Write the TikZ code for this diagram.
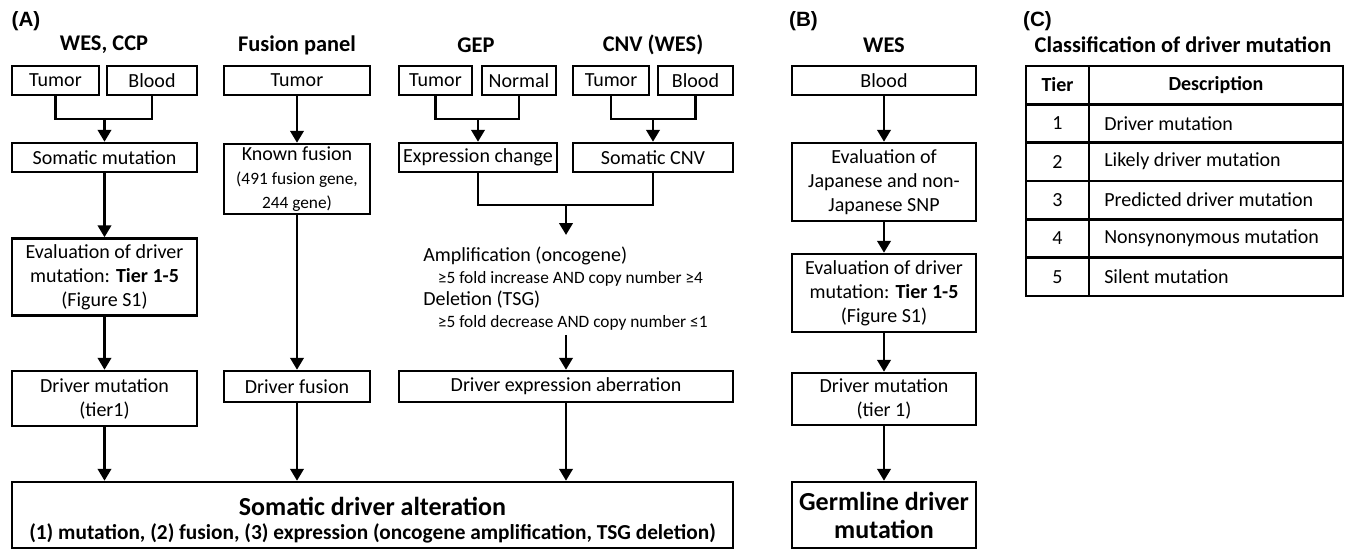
\documentclass[tikz,border=0pt]{standalone}
\usepackage{fontspec}
\setmainfont{Carlito}
\newfontfamily\panelfont{Liberation Sans}
\usetikzlibrary{arrows.meta}

\tikzset{
  box/.style={draw,line width=1.8pt,align=center,inner sep=1pt,font=\fontsize{15}{18}\selectfont},
  ttl/.style={font=\bfseries\fontsize{16.8}{19}\selectfont},
  lbl/.style={font=\panelfont\bfseries\fontsize{15.5}{18}\selectfont},
  cell/.style={font=\fontsize{15}{18}\selectfont,inner sep=0pt},
  lnk/.style={line width=2.2pt},
  arr/.style={line width=2.2pt,-{Triangle[width=10pt,length=9pt]}}
}

\begin{document}
\begin{tikzpicture}[x=0.75pt,y=-0.75pt]
  \useasboundingbox (0,0) rectangle (1346,550);

  % (A)
  \node[lbl] (pA) at (26,21) {(A)};
  \node[ttl] (hWC) at (104,45) {WES, CCP};
  \node[ttl] (hFP) at (297,45) {Fusion panel};
  \node[ttl] (hGEP) at (476,45) {GEP};
  \node[ttl] (hCNV) at (653,45) {CNV (WES)};

  \node[box,minimum width=65.25pt,minimum height=21.75pt] (tumA) at (55.5,80.5) {Tumor};
  \node[box,minimum width=67.5pt,minimum height=21.75pt] (bldA) at (152,80.5) {Blood};
  \node[box,minimum width=138.75pt,minimum height=21.75pt] (somA) at (104.5,157.5) {Somatic mutation};
  \node[box,minimum width=138.75pt,minimum height=57.75pt] (evalA) at (104.5,277) {Evaluation of driver\\mutation: \textbf{Tier 1-5}\\(Figure S1)};
  \node[box,minimum width=138.75pt,minimum height=41.25pt] (drvA) at (104.5,398.5) {Driver mutation\\(tier1)};

  \node[box,minimum width=109.5pt,minimum height=21.75pt] (tumF) at (297,80.5) {Tumor};
  \node[box,minimum width=109.5pt,minimum height=52.5pt] (knF) at (297,179) {Known fusion\\{\fontsize{13}{15}\selectfont(491 fusion gene,}\\{\fontsize{13}{15}\selectfont 244 gene)}};
  \node[box,minimum width=109.5pt,minimum height=23.25pt] (drvF) at (297,386.5) {Driver fusion};

  \node[box,minimum width=54.75pt,minimum height=21.75pt] (tumG) at (435.5,80.5) {Tumor};
  \node[box,minimum width=55.5pt,minimum height=21.75pt] (nrmG) at (519,80.5) {Normal};
  \node[box,minimum width=57pt,minimum height=21.75pt] (tumC) at (611,80.5) {Tumor};
  \node[box,minimum width=56.25pt,minimum height=21.75pt] (bldC) at (695.5,80.5) {Blood};
  \node[box,minimum width=118.5pt,minimum height=21.75pt] (expG) at (478,157.5) {Expression change};
  \node[box,minimum width=120pt,minimum height=21.75pt] (cnvC) at (653,157.5) {Somatic CNV};
  \node[align=left,inner sep=0pt,anchor=north west,font=\fontsize{15}{16.5}\selectfont] (crit) at (423,247)
    {Amplification (oncogene)\\
     \hspace*{11pt}{\fontsize{13}{16.5}\selectfont ≥5 fold increase AND copy number ≥4}\\
     Deletion (TSG)\\
     \hspace*{11pt}{\fontsize{13}{16.5}\selectfont ≥5 fold decrease AND copy number ≤1}};
  \node[box,minimum width=250.5pt,minimum height=23.25pt] (drvE) at (566,386.5) {Driver expression aberration};

  \node[box,minimum width=540.75pt,minimum height=49.5pt,inner sep=0pt] (somDA) at (372.5,515) {{\bfseries\fontsize{19.5}{20}\selectfont\rule{0pt}{22pt}Somatic driver alteration}\\
    {\bfseries\fontsize{16}{20}\selectfont (1) mutation, (2) fusion, (3) expression (oncogene amplification, TSG deletion)}};

  \coordinate (jA) at (104.5,119);
  \coordinate (jG) at (478,119);
  \coordinate (jC) at (653,119);
  \coordinate (jE) at (566,205);

  \draw[lnk] (tumA.south) |- (jA) -| (bldA.south);
  \draw[arr] (jA) -- (somA.north);
  \draw[arr] (somA) -- (evalA);
  \draw[arr] (evalA) -- (drvA);
  \draw[arr] (drvA.south) -- (drvA.south |- somDA.north);

  \draw[arr] (tumF) -- (knF);
  \draw[arr] (knF) -- (drvF);
  \draw[arr] (drvF.south) -- (drvF.south |- somDA.north);

  \draw[lnk] (tumG.south) |- (jG) -| (nrmG.south);
  \draw[arr] (jG) -- (expG.north);
  \draw[lnk] (tumC.south) |- (jC) -| (bldC.south);
  \draw[arr] (jC) -- (cnvC.north);
  \draw[lnk] (expG.south) |- (jE) -| (cnvC.south);
  \draw[arr] (jE) -- ([yshift=9pt]jE |- crit.north);
  \draw[arr] ([yshift=-3pt]crit.south -| drvE.north) -- (drvE.north);
  \draw[arr] (drvE.south) -- (drvE.south |- somDA.north);

  % (B)
  \node[lbl] (pB) at (803.5,21) {(B)};
  \node[ttl] (hW) at (884,45) {WES};
  \node[box,minimum width=138pt,minimum height=21.75pt] (bldB) at (884,80.5) {Blood};
  \node[box,minimum width=138pt,minimum height=58.5pt] (snpB) at (884,182) {Evaluation of\\Japanese and non-\\Japanese SNP};
  \node[box,minimum width=138pt,minimum height=58.5pt] (evalB) at (884,293) {Evaluation of driver\\mutation: \textbf{Tier 1-5}\\(Figure S1)};
  \node[box,minimum width=138pt,minimum height=39pt] (drvB) at (884,399) {Driver mutation\\(tier 1)};
  \node[box,minimum width=138pt,minimum height=49.5pt,font=\bfseries\fontsize{19.5}{21}\selectfont] (germB) at (884,515) {Germline driver\\mutation};
  \draw[arr] (bldB) -- (snpB);
  \draw[arr] (snpB) -- (evalB);
  \draw[arr] (evalB) -- (drvB);
  \draw[arr] (drvB) -- (germB);

  % (C)
  \node[lbl] (pC) at (1037.5,21) {(C)};
  \node[ttl] (hCl) at (1183,45) {Classification of driver mutation};
  \draw[line width=1.8pt] (1026,66) rectangle (1343,296);
  \draw[line width=1.8pt] (1089,66) -- (1089,296);
  \foreach \r in {1,...,5}{\draw[line width=1.8pt] (1026,66+\r*38.33) -- (1343,66+\r*38.33);}
  \node[cell,font=\bfseries\fontsize{15}{18}\selectfont] (tH) at (1057.5,85) {Tier};
  \node[cell,font=\bfseries\fontsize{15}{18}\selectfont] (dH) at (1216,85) {Description};
  \foreach \i/\d in {1/Driver mutation,2/Likely driver mutation,3/Predicted driver mutation,4/Nonsynonymous mutation,5/Silent mutation}{
    \node[cell] (t\i) at (1057.5,85+\i*38.33) {\i};
    \node[cell,anchor=west] (d\i) at (1104,85+\i*38.33) {\d};}
\end{tikzpicture}
\end{document}
